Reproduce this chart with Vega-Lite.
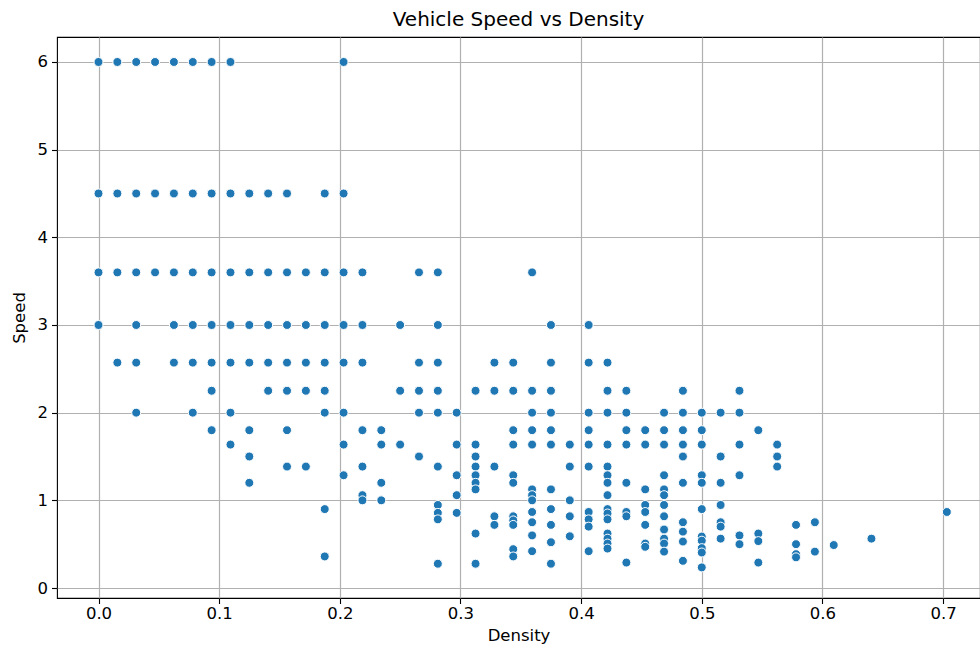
{
  "$schema": "https://vega.github.io/schema/vega-lite/v6.json",
  "autosize": {"type": "none"},
  "padding": {"left": 57, "top": 37, "right": 0, "bottom": 52},
  "width": 923,
  "height": 561,
  "background": "white",
  "title": {"text": "Vehicle Speed vs Density", "fontSize": 20, "fontWeight": "normal", "font": "DejaVu Sans", "color": "#000", "anchor": "middle", "offset": 7},
  "config": {
    "font": "DejaVu Sans",
    "view": {"stroke": "#000", "strokeWidth": 1.1},
    "axis": {
      "domain": false,
      "grid": true,
      "gridColor": "#b0b0b0",
      "gridWidth": 1.2,
      "tickColor": "#000",
      "tickSize": 5.5,
      "tickWidth": 1.1,
      "labelFont": "DejaVu Sans",
      "labelFontSize": 16.5,
      "labelColor": "#000",
      "titleFont": "DejaVu Sans",
      "titleFontSize": 16.5,
      "titleFontWeight": "normal",
      "titleColor": "#000"
    }
  },
  "data": {"values": [
    {"Density": 0, "Speed": 6}, {"Density": 0, "Speed": 4.5}, {"Density": 0, "Speed": 3.6}, {"Density": 0, "Speed": 3},
    {"Density": 0.015625, "Speed": 6}, {"Density": 0.015625, "Speed": 4.5}, {"Density": 0.015625, "Speed": 3.6}, {"Density": 0.015625, "Speed": 2.571},
    {"Density": 0.03125, "Speed": 6}, {"Density": 0.03125, "Speed": 4.5}, {"Density": 0.03125, "Speed": 3.6}, {"Density": 0.03125, "Speed": 3}, {"Density": 0.03125, "Speed": 2.571}, {"Density": 0.03125, "Speed": 2},
    {"Density": 0.046875, "Speed": 6}, {"Density": 0.046875, "Speed": 4.5}, {"Density": 0.046875, "Speed": 3.6},
    {"Density": 0.0625, "Speed": 6}, {"Density": 0.0625, "Speed": 4.5}, {"Density": 0.0625, "Speed": 3.6}, {"Density": 0.0625, "Speed": 3}, {"Density": 0.0625, "Speed": 2.571},
    {"Density": 0.078125, "Speed": 6}, {"Density": 0.078125, "Speed": 4.5}, {"Density": 0.078125, "Speed": 3.6}, {"Density": 0.078125, "Speed": 3}, {"Density": 0.078125, "Speed": 2.571}, {"Density": 0.078125, "Speed": 2},
    {"Density": 0.09375, "Speed": 6}, {"Density": 0.09375, "Speed": 4.5}, {"Density": 0.09375, "Speed": 3.6}, {"Density": 0.09375, "Speed": 3}, {"Density": 0.09375, "Speed": 2.571}, {"Density": 0.09375, "Speed": 2.25}, {"Density": 0.09375, "Speed": 1.8},
    {"Density": 0.109375, "Speed": 6}, {"Density": 0.109375, "Speed": 4.5}, {"Density": 0.109375, "Speed": 3.6}, {"Density": 0.109375, "Speed": 3}, {"Density": 0.109375, "Speed": 2.571}, {"Density": 0.109375, "Speed": 2}, {"Density": 0.109375, "Speed": 1.636},
    {"Density": 0.125, "Speed": 4.5}, {"Density": 0.125, "Speed": 3.6}, {"Density": 0.125, "Speed": 3}, {"Density": 0.125, "Speed": 2.571}, {"Density": 0.125, "Speed": 1.8}, {"Density": 0.125, "Speed": 1.5}, {"Density": 0.125, "Speed": 1.2},
    {"Density": 0.140625, "Speed": 4.5}, {"Density": 0.140625, "Speed": 3.6}, {"Density": 0.140625, "Speed": 3}, {"Density": 0.140625, "Speed": 2.571}, {"Density": 0.140625, "Speed": 2.25},
    {"Density": 0.15625, "Speed": 4.5}, {"Density": 0.15625, "Speed": 3.6}, {"Density": 0.15625, "Speed": 3}, {"Density": 0.15625, "Speed": 2.571}, {"Density": 0.15625, "Speed": 2.25}, {"Density": 0.15625, "Speed": 1.8}, {"Density": 0.15625, "Speed": 1.385},
    {"Density": 0.171875, "Speed": 3.6}, {"Density": 0.171875, "Speed": 3}, {"Density": 0.171875, "Speed": 2.571}, {"Density": 0.171875, "Speed": 2.25}, {"Density": 0.171875, "Speed": 1.385},
    {"Density": 0.1875, "Speed": 4.5}, {"Density": 0.1875, "Speed": 3.6}, {"Density": 0.1875, "Speed": 3}, {"Density": 0.1875, "Speed": 2.571}, {"Density": 0.1875, "Speed": 2.25}, {"Density": 0.1875, "Speed": 2}, {"Density": 0.1875, "Speed": 0.9}, {"Density": 0.1875, "Speed": 0.36},
    {"Density": 0.203125, "Speed": 6}, {"Density": 0.203125, "Speed": 4.5}, {"Density": 0.203125, "Speed": 3.6}, {"Density": 0.203125, "Speed": 3}, {"Density": 0.203125, "Speed": 2.571}, {"Density": 0.203125, "Speed": 2}, {"Density": 0.203125, "Speed": 1.636}, {"Density": 0.203125, "Speed": 1.286},
    {"Density": 0.21875, "Speed": 3.6}, {"Density": 0.21875, "Speed": 3}, {"Density": 0.21875, "Speed": 2.571}, {"Density": 0.21875, "Speed": 1.8}, {"Density": 0.21875, "Speed": 1.385}, {"Density": 0.21875, "Speed": 1.059}, {"Density": 0.21875, "Speed": 1},
    {"Density": 0.234375, "Speed": 1.8}, {"Density": 0.234375, "Speed": 1.636}, {"Density": 0.234375, "Speed": 1.2}, {"Density": 0.234375, "Speed": 1},
    {"Density": 0.25, "Speed": 3}, {"Density": 0.25, "Speed": 2.25}, {"Density": 0.25, "Speed": 1.636},
    {"Density": 0.265625, "Speed": 3.6}, {"Density": 0.265625, "Speed": 2.571}, {"Density": 0.265625, "Speed": 2.25}, {"Density": 0.265625, "Speed": 2}, {"Density": 0.265625, "Speed": 1.5},
    {"Density": 0.28125, "Speed": 3.6}, {"Density": 0.28125, "Speed": 3}, {"Density": 0.28125, "Speed": 2.571}, {"Density": 0.28125, "Speed": 2.25}, {"Density": 0.28125, "Speed": 2}, {"Density": 0.28125, "Speed": 1.385}, {"Density": 0.28125, "Speed": 0.947}, {"Density": 0.28125, "Speed": 0.857}, {"Density": 0.28125, "Speed": 0.783}, {"Density": 0.28125, "Speed": 0.277},
    {"Density": 0.296875, "Speed": 2}, {"Density": 0.296875, "Speed": 1.636}, {"Density": 0.296875, "Speed": 1.286}, {"Density": 0.296875, "Speed": 1.059}, {"Density": 0.296875, "Speed": 0.857},
    {"Density": 0.3125, "Speed": 2.25}, {"Density": 0.3125, "Speed": 1.636}, {"Density": 0.3125, "Speed": 1.5}, {"Density": 0.3125, "Speed": 1.385}, {"Density": 0.3125, "Speed": 1.286}, {"Density": 0.3125, "Speed": 1.2}, {"Density": 0.3125, "Speed": 1.125}, {"Density": 0.3125, "Speed": 0.621}, {"Density": 0.3125, "Speed": 0.277},
    {"Density": 0.328125, "Speed": 2.571}, {"Density": 0.328125, "Speed": 2.25}, {"Density": 0.328125, "Speed": 1.385}, {"Density": 0.328125, "Speed": 0.818}, {"Density": 0.328125, "Speed": 0.72},
    {"Density": 0.34375, "Speed": 2.571}, {"Density": 0.34375, "Speed": 2.25}, {"Density": 0.34375, "Speed": 1.8}, {"Density": 0.34375, "Speed": 1.636}, {"Density": 0.34375, "Speed": 1.286}, {"Density": 0.34375, "Speed": 1.2}, {"Density": 0.34375, "Speed": 0.818}, {"Density": 0.34375, "Speed": 0.771}, {"Density": 0.34375, "Speed": 0.72}, {"Density": 0.34375, "Speed": 0.443}, {"Density": 0.34375, "Speed": 0.36},
    {"Density": 0.359375, "Speed": 3.6}, {"Density": 0.359375, "Speed": 2.25}, {"Density": 0.359375, "Speed": 2}, {"Density": 0.359375, "Speed": 1.8}, {"Density": 0.359375, "Speed": 1.636}, {"Density": 0.359375, "Speed": 1.125}, {"Density": 0.359375, "Speed": 1.059}, {"Density": 0.359375, "Speed": 1}, {"Density": 0.359375, "Speed": 0.867}, {"Density": 0.359375, "Speed": 0.75}, {"Density": 0.359375, "Speed": 0.6}, {"Density": 0.359375, "Speed": 0.42},
    {"Density": 0.375, "Speed": 3}, {"Density": 0.375, "Speed": 2.571}, {"Density": 0.375, "Speed": 2.25}, {"Density": 0.375, "Speed": 2}, {"Density": 0.375, "Speed": 1.8}, {"Density": 0.375, "Speed": 1.636}, {"Density": 0.375, "Speed": 1.125}, {"Density": 0.375, "Speed": 0.9}, {"Density": 0.375, "Speed": 0.72}, {"Density": 0.375, "Speed": 0.522}, {"Density": 0.375, "Speed": 0.277},
    {"Density": 0.390625, "Speed": 1.636}, {"Density": 0.390625, "Speed": 1.385}, {"Density": 0.390625, "Speed": 1}, {"Density": 0.390625, "Speed": 0.818}, {"Density": 0.390625, "Speed": 0.59},
    {"Density": 0.40625, "Speed": 3}, {"Density": 0.40625, "Speed": 2.571}, {"Density": 0.40625, "Speed": 2}, {"Density": 0.40625, "Speed": 1.8}, {"Density": 0.40625, "Speed": 1.636}, {"Density": 0.40625, "Speed": 1.385}, {"Density": 0.40625, "Speed": 0.867}, {"Density": 0.40625, "Speed": 0.783}, {"Density": 0.40625, "Speed": 0.7}, {"Density": 0.40625, "Speed": 0.42},
    {"Density": 0.421875, "Speed": 2.571}, {"Density": 0.421875, "Speed": 2.25}, {"Density": 0.421875, "Speed": 2}, {"Density": 0.421875, "Speed": 1.636}, {"Density": 0.421875, "Speed": 1.385}, {"Density": 0.421875, "Speed": 1.286}, {"Density": 0.421875, "Speed": 1.2}, {"Density": 0.421875, "Speed": 1.059}, {"Density": 0.421875, "Speed": 0.9}, {"Density": 0.421875, "Speed": 0.85}, {"Density": 0.421875, "Speed": 0.783}, {"Density": 0.421875, "Speed": 0.621}, {"Density": 0.421875, "Speed": 0.563}, {"Density": 0.421875, "Speed": 0.507}, {"Density": 0.421875, "Speed": 0.45},
    {"Density": 0.4375, "Speed": 2.25}, {"Density": 0.4375, "Speed": 2}, {"Density": 0.4375, "Speed": 1.8}, {"Density": 0.4375, "Speed": 1.636}, {"Density": 0.4375, "Speed": 1.2}, {"Density": 0.4375, "Speed": 0.867}, {"Density": 0.4375, "Speed": 0.818}, {"Density": 0.4375, "Speed": 0.29},
    {"Density": 0.453125, "Speed": 1.8}, {"Density": 0.453125, "Speed": 1.636}, {"Density": 0.453125, "Speed": 1.125}, {"Density": 0.453125, "Speed": 0.947}, {"Density": 0.453125, "Speed": 0.867}, {"Density": 0.453125, "Speed": 0.72}, {"Density": 0.453125, "Speed": 0.507}, {"Density": 0.453125, "Speed": 0.47},
    {"Density": 0.46875, "Speed": 2}, {"Density": 0.46875, "Speed": 1.8}, {"Density": 0.46875, "Speed": 1.636}, {"Density": 0.46875, "Speed": 1.286}, {"Density": 0.46875, "Speed": 1.125}, {"Density": 0.46875, "Speed": 1.059}, {"Density": 0.46875, "Speed": 0.947}, {"Density": 0.46875, "Speed": 0.818}, {"Density": 0.46875, "Speed": 0.667}, {"Density": 0.46875, "Speed": 0.563}, {"Density": 0.46875, "Speed": 0.507}, {"Density": 0.46875, "Speed": 0.415},
    {"Density": 0.484375, "Speed": 2.25}, {"Density": 0.484375, "Speed": 2}, {"Density": 0.484375, "Speed": 1.8}, {"Density": 0.484375, "Speed": 1.636}, {"Density": 0.484375, "Speed": 1.5}, {"Density": 0.484375, "Speed": 1.2}, {"Density": 0.484375, "Speed": 0.75}, {"Density": 0.484375, "Speed": 0.643}, {"Density": 0.484375, "Speed": 0.53}, {"Density": 0.484375, "Speed": 0.31},
    {"Density": 0.5, "Speed": 2}, {"Density": 0.5, "Speed": 1.8}, {"Density": 0.5, "Speed": 1.636}, {"Density": 0.5, "Speed": 1.286}, {"Density": 0.5, "Speed": 1.2}, {"Density": 0.5, "Speed": 0.9}, {"Density": 0.5, "Speed": 0.587}, {"Density": 0.5, "Speed": 0.54}, {"Density": 0.5, "Speed": 0.455}, {"Density": 0.5, "Speed": 0.405}, {"Density": 0.5, "Speed": 0.235},
    {"Density": 0.515625, "Speed": 2}, {"Density": 0.515625, "Speed": 1.5}, {"Density": 0.515625, "Speed": 1.2}, {"Density": 0.515625, "Speed": 0.947}, {"Density": 0.515625, "Speed": 0.75}, {"Density": 0.515625, "Speed": 0.7}, {"Density": 0.515625, "Speed": 0.563},
    {"Density": 0.53125, "Speed": 2.25}, {"Density": 0.53125, "Speed": 2}, {"Density": 0.53125, "Speed": 1.636}, {"Density": 0.53125, "Speed": 1.286}, {"Density": 0.53125, "Speed": 0.6}, {"Density": 0.53125, "Speed": 0.5},
    {"Density": 0.546875, "Speed": 1.8}, {"Density": 0.546875, "Speed": 0.621}, {"Density": 0.546875, "Speed": 0.535}, {"Density": 0.546875, "Speed": 0.29},
    {"Density": 0.5625, "Speed": 1.636}, {"Density": 0.5625, "Speed": 1.5}, {"Density": 0.5625, "Speed": 1.385},
    {"Density": 0.578125, "Speed": 0.72}, {"Density": 0.578125, "Speed": 0.5}, {"Density": 0.578125, "Speed": 0.386}, {"Density": 0.578125, "Speed": 0.35},
    {"Density": 0.59375, "Speed": 0.75}, {"Density": 0.59375, "Speed": 0.415},
    {"Density": 0.609375, "Speed": 0.49},
    {"Density": 0.640625, "Speed": 0.563},
    {"Density": 0.703125, "Speed": 0.867}
  ]},
  "mark": {"type": "point", "shape": "circle", "filled": true, "fill": "#1f77b4", "fillOpacity": 1, "stroke": "white", "strokeWidth": 1, "strokeOpacity": 1, "size": 80, "opacity": 1},
  "encoding": {
    "x": {
      "field": "Density", "type": "quantitative",
      "scale": {"domain": [-0.0344, 0.7306], "nice": false, "zero": false},
      "axis": {"values": [0, 0.1, 0.2, 0.3, 0.4, 0.5, 0.6, 0.7], "format": ".1f", "labelPadding": 2, "titlePadding": 5, "title": "Density"}
    },
    "y": {
      "field": "Speed", "type": "quantitative",
      "scale": {"domain": [-0.114, 6.285], "nice": false, "zero": false},
      "axis": {"values": [0, 1, 2, 3, 4, 5, 6], "format": "d", "labelPadding": 4, "titlePadding": 10, "title": "Speed"}
    }
  }
}
